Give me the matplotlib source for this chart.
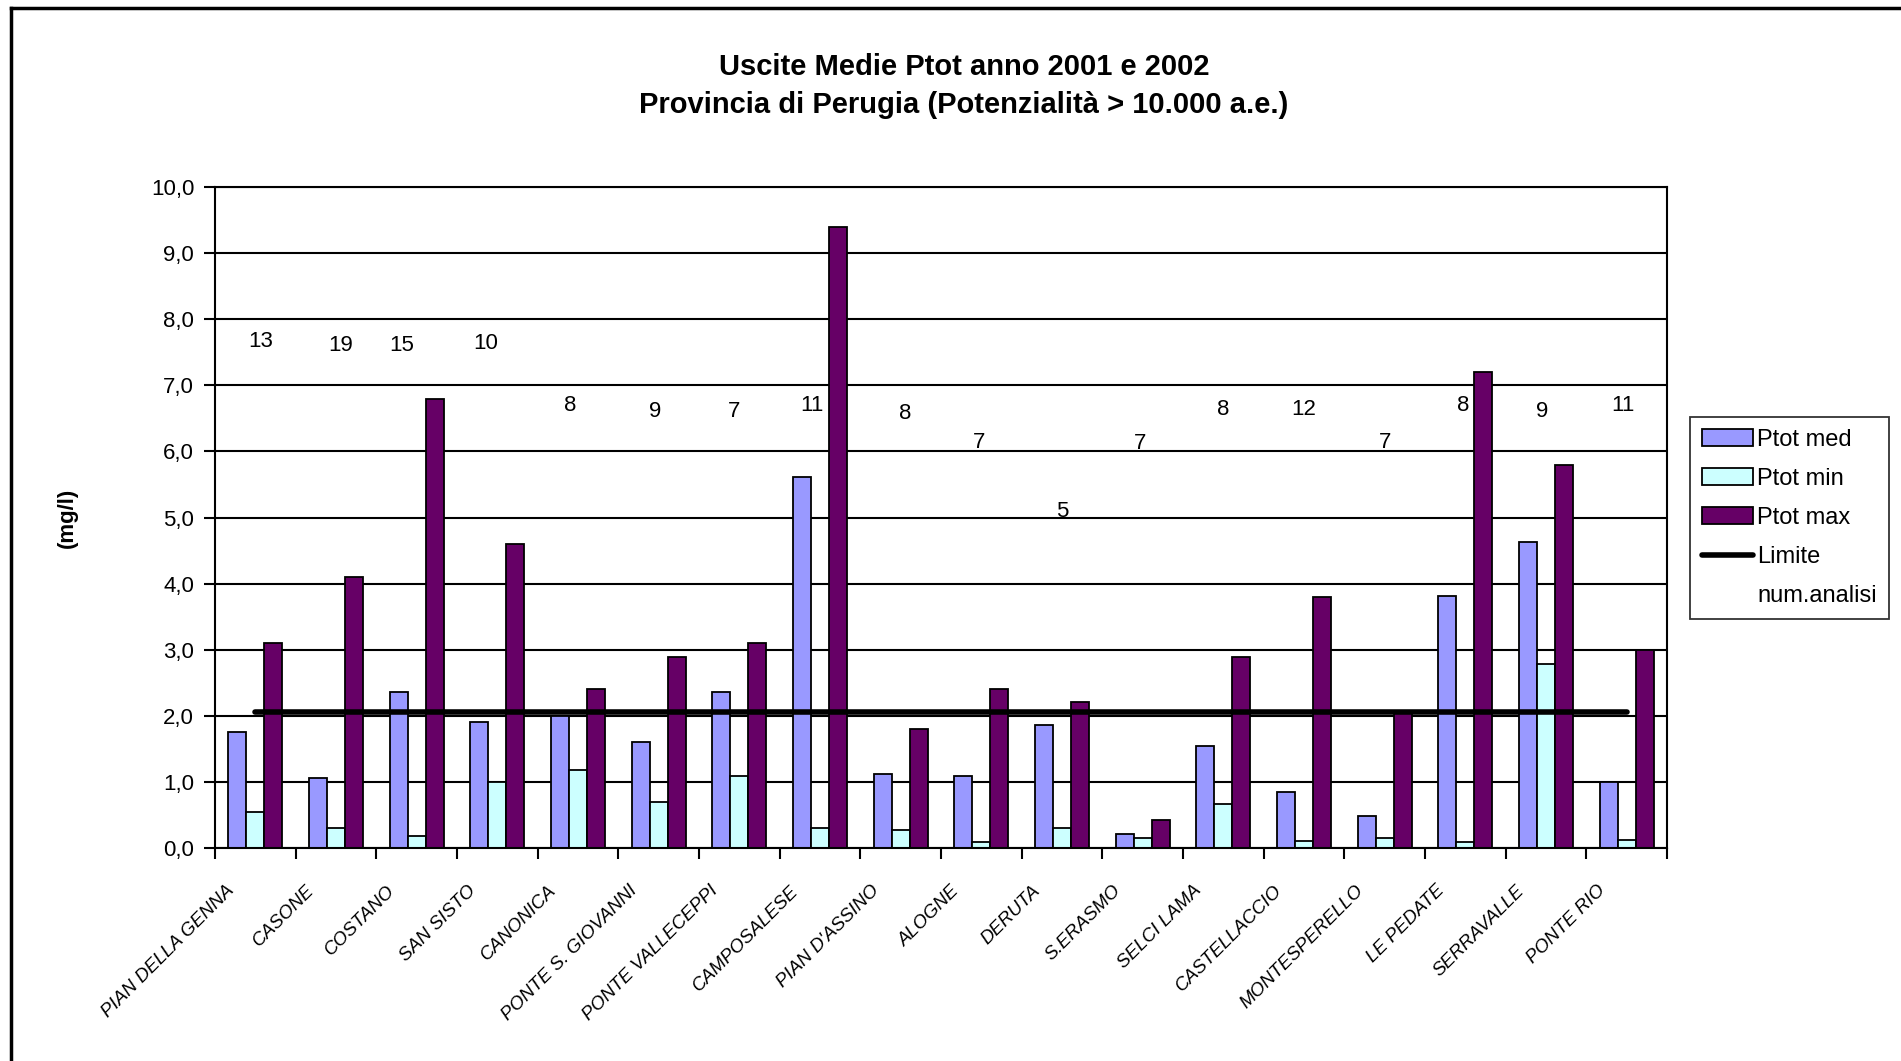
import matplotlib.pyplot as plt
import matplotlib.transforms as mtransforms
import numpy as np
from matplotlib.lines import Line2D
from matplotlib.patches import Patch
from matplotlib.ticker import FuncFormatter

impianti = ["PIAN DELLA GENNA", "CASONE", "COSTANO", "SAN SISTO",
            "CANONICA", "PONTE S. GIOVANNI", "PONTE VALLECEPPI",
            "CAMPOSALESE", "PIAN D'ASSINO", "ALOGNE", "DERUTA",
            "S.ERASMO", "SELCI LAMA", "CASTELLACCIO", "MONTESPERELLO",
            "LE PEDATE", "SERRAVALLE", "PONTE RIO"]
ptot_med = [1.75, 1.05, 2.36, 1.90, 2.0, 1.60, 2.36, 5.61, 1.12, 1.09,
            1.85, 0.21, 1.54, 0.84, 0.48, 3.81, 4.63, 1.0]
ptot_min = [0.54, 0.30, 0.18, 1.0, 1.17, 0.69, 1.08, 0.29, 0.27, 0.08,
            0.29, 0.15, 0.66, 0.10, 0.15, 0.09, 2.78, 0.11]
ptot_max = [3.1, 4.1, 6.8, 4.6, 2.4, 2.88, 3.1, 9.4, 1.8, 2.4,
            2.2, 0.42, 2.88, 3.8, 2.05, 7.2, 5.8, 3.0]
limite = 2.05
num_analisi = [13, 19, 15, 10, 8, 9, 7, 11, 8, 7, 5, 7, 8, 12, 7, 8, 9, 11]

# where the count labels sit in the original sheet
label_y = [7.66, 7.60, 7.60, 7.63, 6.69, 6.60, 6.60, 6.70, 6.57, 6.14,
           5.09, 6.12, 6.63, 6.64, 6.14, 6.69, 6.60, 6.69]
label_dx = [0.07, 0.06, -0.18, -0.15, -0.1, -0.05, -0.06, -0.1, 0.05,
            -0.03, 0.0, -0.03, 0.0, 0.0, 0.0, -0.03, -0.05, -0.05]

COL_MED = "#9999ff"
COL_MIN = "#ccffff"
COL_MAX = "#660066"


def formatter_yaxis(y, pos):
    return f"{y:.1f}".replace(".", ",")


def draw_chart():
    plt.rcParams["font.family"] = ["Liberation Sans", "DejaVu Sans"]
    fig = plt.figure(figsize=(19.01, 10.61), dpi=100)
    ax = fig.add_axes([0.1131, 0.2012, 0.7638, 0.6221])

    x = np.arange(len(impianti))
    w = 0.222
    ax.yaxis.grid(True, color="black", linewidth=1.5)
    ax.set_axisbelow(True)
    ax.bar(x - w, ptot_med, w, color=COL_MED, edgecolor="black",
           linewidth=1.3, zorder=2)
    ax.bar(x, ptot_min, w, color=COL_MIN, edgecolor="black",
           linewidth=1.3, zorder=2)
    ax.bar(x + w, ptot_max, w, color=COL_MAX, edgecolor="black",
           linewidth=1.3, zorder=2)
    ax.plot(x, [limite] * len(x), color="black", linewidth=4,
            solid_capstyle="round", zorder=3)

    for i, n in enumerate(num_analisi):
        ax.text(i + label_dx[i], label_y[i], str(n), ha="center",
                va="center", fontsize=16, zorder=4)

    ax.set_xlim(-0.5, len(impianti) - 0.5)
    ax.set_ylim(0, 10)
    ax.set_yticks(np.arange(0, 10.5, 1))
    ax.yaxis.set_major_formatter(FuncFormatter(formatter_yaxis))
    ax.tick_params(axis="y", direction="out", length=8, width=1.5,
                   labelsize=16, pad=7)

    # ticks between categories, names under the centres
    ax.set_xticks(np.arange(-0.5, len(impianti), 1))
    ax.set_xticklabels([])
    ax.set_xticks(x, minor=True)
    ax.set_xticklabels(impianti, minor=True, rotation=45, ha="right",
                       rotation_mode="anchor", fontsize=13.5,
                       style="italic")
    ax.tick_params(axis="x", which="major", direction="out", length=8,
                   width=1.5)
    ax.tick_params(axis="x", which="minor", length=0, pad=25)
    shift = mtransforms.ScaledTranslation(-0.3, 0, fig.dpi_scale_trans)
    for lab in ax.get_xticklabels(minor=True):
        lab.set_transform(lab.get_transform() + shift)
    for s in ax.spines.values():
        s.set_linewidth(1.5)
        s.set_color("black")

    fig.text(0.0352, 0.512, "(mg/l)", rotation=90, ha="center",
             va="center", fontsize=16, fontweight="bold")
    fig.text(0.507, 0.9365, "Uscite Medie Ptot anno 2001 e 2002",
             ha="center", va="center", fontsize=21, fontweight="bold")
    fig.text(0.507, 0.9015,
             "Provincia di Perugia (Potenzialità > 10.000 a.e.)",
             ha="center", va="center", fontsize=21, fontweight="bold")

    handles = [
        Patch(facecolor=COL_MED, edgecolor="black", linewidth=1.3),
        Patch(facecolor=COL_MIN, edgecolor="black", linewidth=1.3),
        Patch(facecolor=COL_MAX, edgecolor="black", linewidth=1.3),
        Line2D([], [], color="black", linewidth=4, solid_capstyle="round"),
        Line2D([], [], linestyle="none"),
    ]
    labels = ["Ptot med", "Ptot min", "Ptot max", "Limite", "num.analisi"]
    leg = fig.legend(handles, labels, loc="upper left",
                     bbox_to_anchor=(0.889, 0.607), borderaxespad=0,
                     fancybox=False, edgecolor="black", fontsize=17,
                     handlelength=2.15, handletextpad=0.2,
                     labelspacing=0.72, borderpad=0.5)
    leg.get_frame().set_linewidth(1.3)

    # outer chart-area border (left and top edges visible)
    fig.add_artist(Line2D([0.0058, 0.0058], [0, 0.9925], color="black",
                          linewidth=2.5, transform=fig.transFigure))
    fig.add_artist(Line2D([0.0058, 1.0], [0.9925, 0.9925], color="black",
                          linewidth=2.5, transform=fig.transFigure))

    fig.savefig("out.png", dpi=100)


def main():
    draw_chart()


if __name__ == "__main__":
    main()
